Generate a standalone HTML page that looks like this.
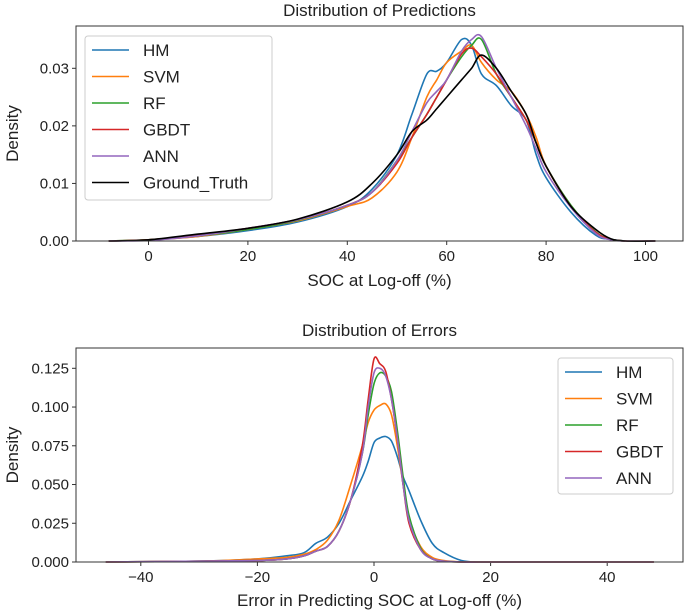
<!DOCTYPE html>
<html><head><meta charset="utf-8">
<style>
body{margin:0;background:#fff;}
svg{display:block;font-family:"Liberation Sans","DejaVu Sans",sans-serif;}
</style></head>
<body>
<svg id="fig" width="685" height="611" viewBox="0 0 685 611" xmlns="http://www.w3.org/2000/svg"></svg>
<script>
const colors = ["#1f77b4","#ff7f0e","#2ca02c","#d62728","#9467bd","#000000"];
const topNames = ["HM","SVM","RF","GBDT","ANN","Ground_Truth"];
const topX = [-8,0,10,20,30,40,45,50,53,56,58,60,63,65,67,70,73,76,78,80,85,90,93,96,102];
const topHM = [0,0.0002,0.0008,0.0018,0.0033,0.006,0.009,0.015,0.022,0.029,0.0295,0.031,0.035,0.034,0.029,0.027,0.0235,0.021,0.015,0.011,0.005,0.001,0.0003,0,0];
const topSVM = [0,0.0002,0.0008,0.002,0.0035,0.006,0.0075,0.012,0.018,0.025,0.028,0.031,0.033,0.034,0.031,0.028,0.026,0.022,0.018,0.013,0.006,0.0015,0.0003,0,0];
const topRF = [0,0.0002,0.0009,0.002,0.0036,0.0062,0.0085,0.014,0.018,0.022,0.025,0.028,0.032,0.034,0.035,0.029,0.025,0.021,0.017,0.013,0.0062,0.0016,0.0003,0,0];
const topGBDT = [0,0.0002,0.001,0.0022,0.0037,0.0062,0.0085,0.0135,0.018,0.022,0.025,0.028,0.0325,0.0335,0.032,0.029,0.025,0.021,0.017,0.013,0.006,0.0015,0.0003,0,0];
const topANN = [0,0.0001,0.0009,0.0022,0.0037,0.0062,0.0085,0.014,0.019,0.024,0.026,0.028,0.033,0.035,0.0355,0.030,0.025,0.020,0.016,0.012,0.0058,0.0013,0.0002,0,0];
const topGT = [0,0.0002,0.0012,0.0022,0.0038,0.0068,0.010,0.015,0.019,0.021,0.023,0.025,0.028,0.030,0.0323,0.030,0.026,0.022,0.017,0.013,0.006,0.002,0.0004,0,0];
const topXTicks = [0,20,40,60,80,100];
const topYTicks = [0,0.01,0.02,0.03];
const topYLabels = ["0.00","0.01","0.02","0.03"];

const botNames = ["HM","SVM","RF","GBDT","ANN"];
const botX = [-46,-30,-20,-15,-12,-10,-8,-6,-4,-2,-1,0,1,2,3,4,5,6,8,10,12,15,18,25,48];
const botHM = [0,0.0005,0.002,0.004,0.006,0.012,0.016,0.025,0.04,0.055,0.065,0.077,0.08,0.081,0.078,0.068,0.055,0.046,0.027,0.012,0.006,0.001,0,0,0];
const botSVM = [0,0.0005,0.002,0.003,0.005,0.008,0.014,0.027,0.05,0.075,0.09,0.098,0.101,0.102,0.095,0.075,0.05,0.028,0.01,0.003,0.001,0,0,0,0];
const botRF = [0,0.0005,0.001,0.002,0.004,0.007,0.01,0.02,0.04,0.07,0.095,0.115,0.122,0.12,0.11,0.085,0.055,0.03,0.009,0.002,0.0005,0,0,0,0];
const botGBDT = [0,0.0005,0.001,0.002,0.004,0.007,0.01,0.02,0.04,0.075,0.105,0.131,0.128,0.123,0.105,0.08,0.05,0.025,0.008,0.002,0.0005,0,0,0,0];
const botANN = [0,0.0005,0.001,0.002,0.004,0.007,0.01,0.02,0.04,0.07,0.1,0.122,0.125,0.12,0.105,0.08,0.05,0.027,0.008,0.002,0.0005,0,0,0,0];
const botXTicks = [-40,-20,0,20,40];
const botXLabels = ["\u221240","\u221220","0","20","40"];
const botYTicks = [0,0.025,0.05,0.075,0.1,0.125];
const botYLabels = ["0.000","0.025","0.050","0.075","0.100","0.125"];

const NS="http://www.w3.org/2000/svg";
const svg=document.getElementById('fig');
function mk(tag,attrs,parent,text){const e=document.createElementNS(NS,tag);for(const k in attrs)e.setAttribute(k,attrs[k]);if(text!==undefined)e.textContent=text;(parent||svg).appendChild(e);return e;}
function smooth(pts){
  let d='M'+pts[0][0].toFixed(1)+','+pts[0][1].toFixed(1);
  for(let i=0;i<pts.length-1;i++){
    const p0=pts[Math.max(0,i-1)],p1=pts[i],p2=pts[i+1],p3=pts[Math.min(pts.length-1,i+2)];
    const c1=[p1[0]+(p2[0]-p0[0])/6,p1[1]+(p2[1]-p0[1])/6];
    const c2=[p2[0]-(p3[0]-p1[0])/6,p2[1]-(p3[1]-p1[1])/6];
    d+=` C${c1[0].toFixed(1)},${c1[1].toFixed(1)} ${c2[0].toFixed(1)},${c2[1].toFixed(1)} ${p2[0].toFixed(1)},${p2[1].toFixed(1)}`;
  }
  return d;
}

function panel(cfg){
  const g=mk('g',{});
  
  
  const sx=v=>cfg.x0px+(v-cfg.x0)*cfg.xs;
  const sy=v=>cfg.y0px-(v)*cfg.ys;
  const t=mk('text',{x:(cfg.L+cfg.R)/2,y:cfg.titleY,'text-anchor':'middle','font-size':17,fill:'#222'},g,cfg.title);
  
  
  cfg.xticks.forEach((v,i)=>{
    const x=sx(v);
    mk('line',{x1:x,x2:x,y1:cfg.B,y2:cfg.B+4,stroke:'#333'},g);
    const tl=mk('text',{x:x,y:cfg.B+20,'text-anchor':'middle','font-size':15,fill:'#222'},g,cfg.xlabels[i]);
    
    
  });
  cfg.yticks.forEach((v,i)=>{
    const y=sy(v);
    mk('line',{x1:cfg.L-4,x2:cfg.L,y1:y,y2:y,stroke:'#333'},g);
    const tl=mk('text',{x:cfg.L-7,y:y+5,'text-anchor':'end','font-size':15,fill:'#222'},g,cfg.ylabels[i]);
    
    
  });
  const xt=mk('text',{x:(cfg.L+cfg.R)/2,y:cfg.xTitleY,'text-anchor':'middle','font-size':17,fill:'#222'},g,cfg.xtitle);
  
  
  const cy=(cfg.T+cfg.B)/2;
  const yt=mk('text',{x:18,y:cy,'text-anchor':'middle','font-size':17,fill:'#222',transform:`rotate(-90 18 ${cy})`},g,'Density');
  
  
  cfg.series.forEach((s,i)=>{
    const pts=cfg.xv.map((v,j)=>[sx(v),sy(s[j])]);
    const p=mk('path',{d:smooth(pts),fill:'none',stroke:colors[i],'stroke-width':1.6,'stroke-linejoin':'round'},g);
    
    
  });
  mk('rect',{x:cfg.L,y:cfg.T,width:cfg.R-cfg.L,height:cfg.B-cfg.T,fill:'none',stroke:'#333','stroke-width':1},g);
  const lg=mk('g',{},g);
  
  
  const lb=cfg.legend;
  mk('rect',{x:lb.x,y:lb.y,width:lb.w,height:lb.h,rx:3,fill:'#fff','fill-opacity':0.8,stroke:'#ccc'},lg);
  cfg.names.forEach((n,i)=>{
    const y=lb.y+14+i*26.5;
    const e=mk('g',{},lg);
    
    
    mk('line',{x1:lb.x+7,x2:lb.x+44,y1:y,y2:y,stroke:colors[i],'stroke-width':1.6},e);
    mk('text',{x:lb.x+58,y:y+6,'font-size':17,fill:'#222'},e,n);
  });
}

panel({name:'predictions-chart',title:'Distribution of Predictions',titleY:16,L:76,R:683,T:26,B:241,
  x0:0,x0px:148.5,xs:4.97,y0px:241,ys:(241-68.3)/0.03,
  xticks:topXTicks,xlabels:topXTicks.map(String),yticks:topYTicks,ylabels:topYLabels,
  xtitle:'SOC at Log-off (%)',xTitleY:286,xv:topX,
  series:[topHM,topSVM,topRF,topGBDT,topANN,topGT],names:topNames,
  legend:{x:85,y:36,w:187,h:164}});
panel({name:'errors-chart',title:'Distribution of Errors',titleY:336,L:76,R:683,T:348,B:562,
  x0:0,x0px:374,xs:5.83,y0px:562,ys:(562-368.3)/0.125,
  xticks:botXTicks,xlabels:botXLabels,yticks:botYTicks,ylabels:botYLabels,
  xtitle:'Error in Predicting SOC at Log-off (%)',xTitleY:606,xv:botX,
  series:[botHM,botSVM,botRF,botGBDT,botANN],names:botNames,
  legend:{x:558,y:358,w:115,h:136}});
</script>
</body></html>
